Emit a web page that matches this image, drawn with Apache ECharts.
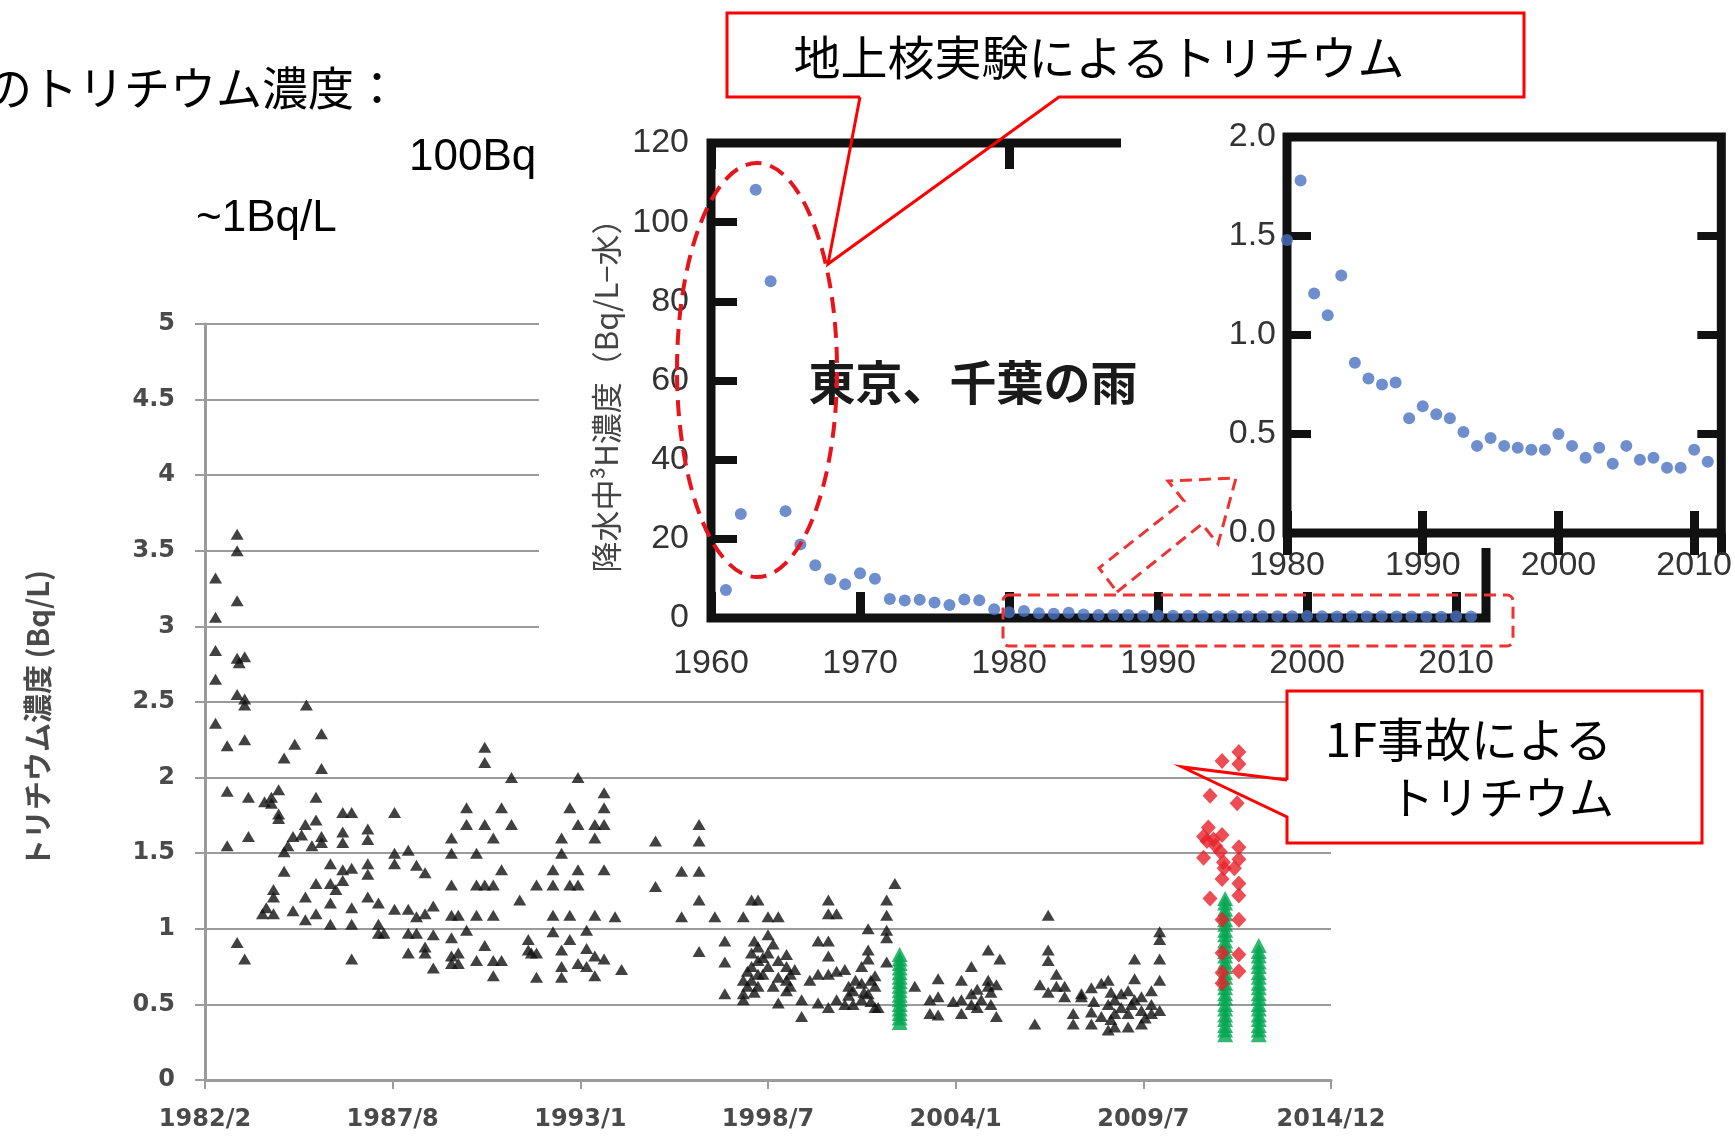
<!DOCTYPE html>
<html><head><meta charset="utf-8">
<script src="https://cdn.jsdelivr.net/npm/echarts@6/dist/echarts.min.js"></script>
<style>html,body{margin:0;padding:0;background:#fff}#c{width:1735px;height:1136px}</style>
</head><body><div id="c"></div>
<script>
// ---------- main chart (Bq/L) ----------
const mainTickLabels = ['1982/2','1987/8','1993/1','1998/7','2004/1','2009/7','2014/12'];
const mainStart = 1982 + 1/12;   // 1982/2
const mainEnd = 2014 + 11/12;    // 2014/12
const mainYTicks = [0,0.5,1,1.5,2,2.5,3,3.5,4,4.5,5];

const blackPts = [
[1982.39,3.32],[1982.39,3.06],[1982.39,2.84],[1982.39,2.65],[1982.39,2.36],
[1982.73,2.21],[1982.73,1.91],[1982.73,1.55],
[1983.02,3.61],[1983.02,3.50],[1983.02,3.17],[1983.02,2.79],[1983.08,2.76],[1983.02,2.55],[1983.02,0.91],
[1983.24,2.80],[1983.24,2.52],[1983.24,2.48],[1983.24,2.25],[1983.24,0.80],
[1983.35,1.87],[1983.35,1.61],
[1983.76,1.10],[1983.82,1.84],[1983.87,1.14],
[1984.02,1.87],[1984.02,1.83],[1984.08,1.26],[1984.08,1.21],[1984.08,1.10],
[1984.23,1.92],[1984.23,1.76],[1984.23,1.73],
[1984.39,2.13],[1984.39,1.51],[1984.39,1.38],[1984.50,1.55],
[1984.65,1.61],[1984.65,1.12],[1984.70,2.22],[1984.90,1.62],
[1985.01,1.69],[1985.01,1.21],[1985.01,1.06],[1985.04,2.48],[1985.20,1.55],
[1985.32,1.87],[1985.32,1.72],[1985.32,1.30],[1985.32,1.10],
[1985.48,2.29],[1985.48,2.06],[1985.48,1.61],[1985.48,1.57],
[1985.74,1.43],[1985.74,1.30],[1985.74,1.17],[1985.74,1.03],[1985.90,1.26],
[1986.10,1.77],[1986.10,1.64],[1986.10,1.57],[1986.10,1.39],[1986.10,1.32],
[1986.36,1.77],[1986.36,1.40],[1986.36,1.14],[1986.36,1.03],[1986.36,0.80],
[1986.83,1.66],[1986.83,1.59],[1986.83,1.43],[1986.83,1.36],[1986.83,1.21],
[1987.14,1.17],[1987.14,1.03],[1987.14,0.97],[1987.30,0.97],
[1987.61,1.77],[1987.61,1.50],[1987.61,1.43],[1987.61,1.13],
[1988.01,1.52],[1988.01,1.13],[1988.01,0.97],[1988.01,0.84],
[1988.25,1.42],[1988.25,1.08],[1988.25,0.97],
[1988.50,1.37],[1988.50,1.10],[1988.50,0.88],[1988.50,0.84],
[1988.74,1.15],[1988.74,0.96],[1988.74,0.74],
[1989.27,1.60],[1989.27,1.50],[1989.27,1.29],[1989.27,1.09],[1989.27,0.94],[1989.27,0.82],[1989.27,0.77],
[1989.47,1.09],[1989.47,0.84],[1989.47,0.77],
[1989.71,1.80],[1989.71,1.69],[1989.71,0.99],
[1990.00,1.50],[1990.00,1.29],[1990.00,1.09],[1990.00,0.79],
[1990.24,2.20],[1990.24,2.10],[1990.24,1.69],[1990.24,1.29],[1990.24,0.89],
[1990.49,1.60],[1990.49,1.29],[1990.49,1.09],[1990.49,0.79],[1990.49,0.69],
[1990.73,1.80],[1990.73,1.39],[1990.73,0.79],
[1991.02,2.00],[1991.02,1.69],[1991.26,1.19],
[1991.51,0.93],[1991.51,0.86],[1991.60,0.84],
[1991.75,1.29],[1991.75,0.84],[1991.75,0.68],
[1992.23,1.39],[1992.23,1.29],[1992.23,1.09],[1992.23,0.98],
[1992.48,1.60],[1992.48,1.50],[1992.48,0.86],[1992.48,0.75],[1992.48,0.68],
[1992.72,1.80],[1992.72,1.29],[1992.72,1.09],[1992.72,0.93],
[1992.96,2.00],[1992.96,1.69],[1992.96,1.39],[1992.96,1.29],[1992.96,0.77],
[1993.21,0.99],[1993.21,0.87],[1993.21,0.75],
[1993.45,1.69],[1993.45,1.60],[1993.45,1.09],[1993.45,0.82],[1993.45,0.69],
[1993.72,1.90],[1993.72,1.80],[1993.72,1.69],[1993.72,1.39],[1993.72,0.80],
[1994.04,1.08],[1994.23,0.73],
[1995.22,1.58],[1995.22,1.28],
[1995.98,1.38],[1995.98,1.08],
[1996.49,1.69],[1996.49,1.58],[1996.49,1.38],[1996.49,1.19],[1996.49,0.85],
[1996.95,1.08],
[1997.24,0.92],[1997.24,0.78],[1997.24,0.57],
[1997.78,1.08],[1997.78,0.66],[1997.78,0.57],[1997.78,0.53],[1997.90,0.62],[1997.90,0.72],
[1998.02,1.19],[1998.02,0.84],[1998.02,0.75],[1998.02,0.66],[1998.10,0.58],[1998.10,0.92],
[1998.21,1.19],[1998.21,0.88],[1998.21,0.79],[1998.21,0.70],[1998.21,0.62],[1998.35,0.70],[1998.35,0.81],
[1998.50,1.08],[1998.50,0.96],[1998.50,0.84],[1998.50,0.75],[1998.65,0.62],[1998.65,0.90],
[1998.80,1.08],[1998.80,0.79],[1998.80,0.68],[1998.80,0.51],
[1999.04,0.83],[1999.04,0.75],[1999.04,0.66],[1999.04,0.59],[1999.15,0.70],[1999.15,0.62],
[1999.28,0.73],[1999.48,0.53],[1999.48,0.42],[1999.72,0.66],
[1999.96,0.92],[1999.96,0.70],[1999.96,0.51],
[2000.26,1.19],[2000.26,1.10],[2000.26,0.92],[2000.26,0.82],[2000.26,0.70],[2000.26,0.48],
[2000.50,1.10],[2000.50,0.72],[2000.50,0.53],
[2000.74,0.73],[2000.74,0.50],[2000.85,0.62],[2000.85,0.56],
[2000.98,0.59],[2000.98,0.50],[2001.05,0.66],
[2001.23,0.75],[2001.23,0.64],[2001.23,0.53],[2001.30,0.58],
[2001.42,1.00],[2001.42,0.86],[2001.42,0.80],[2001.42,0.57],[2001.50,0.52],[2001.50,0.66],
[2001.62,0.69],[2001.62,0.62],[2001.62,0.48],[2001.71,0.48],
[2001.96,1.19],[2001.96,1.09],[2001.96,0.99],[2001.96,0.94],[2001.96,0.78],
[2002.20,1.30],
[2002.78,0.62],
[2003.22,0.53],[2003.22,0.44],
[2003.46,0.67],[2003.46,0.55],[2003.46,0.43],
[2003.90,0.52],
[2004.14,0.66],[2004.14,0.53],[2004.14,0.44],
[2004.43,0.75],[2004.43,0.57],[2004.43,0.50],[2004.60,0.48],[2004.60,0.60],
[2004.72,0.53],
[2004.92,0.86],[2004.92,0.66],[2004.92,0.62],[2005.00,0.58],[2005.00,0.50],
[2005.16,0.63],[2005.16,0.42],[2005.26,0.80],
[2006.28,0.37],[2006.43,0.63],
[2006.67,1.09],[2006.67,0.86],[2006.67,0.79],[2006.67,0.58],
[2006.91,0.70],[2006.91,0.62],
[2007.15,0.62],[2007.15,0.55],
[2007.40,0.44],[2007.40,0.37],
[2007.64,0.55],[2007.64,0.57],
[2007.93,0.61],[2007.93,0.45],[2007.93,0.37],[2008.00,0.52],
[2008.22,0.64],[2008.22,0.42],
[2008.42,0.66],[2008.42,0.50],[2008.42,0.33],[2008.50,0.40],[2008.50,0.58],
[2008.61,0.53],[2008.61,0.44],[2008.61,0.35],
[2008.80,0.57],[2008.80,0.48],
[2009.00,0.59],[2009.00,0.44],[2009.00,0.35],[2009.10,0.50],
[2009.19,0.80],[2009.19,0.67],[2009.19,0.53],
[2009.39,0.55],[2009.39,0.46],[2009.39,0.37],[2009.50,0.41],
[2009.68,0.59],[2009.68,0.50],[2009.68,0.44],
[2009.92,0.98],[2009.92,0.93],[2009.92,0.80],[2009.92,0.66],[2009.92,0.46]
];

const redPts = [
[2011.74,2.11],[2012.23,2.17],[2012.23,2.09],[2011.39,1.88],[2012.18,1.83],
[2011.34,1.67],[2011.20,1.61],[2011.49,1.59],[2011.74,1.62],[2012.23,1.54],
[2011.30,1.58],[2011.55,1.55],
[2011.20,1.47],[2011.69,1.51],[2011.78,1.44],[2012.23,1.46],[2011.80,1.40],[2012.10,1.40],
[2011.74,1.33],[2012.23,1.30],[2011.39,1.20],[2012.23,1.22],
[2011.74,1.06],[2012.23,1.06],[2011.74,0.84],[2012.23,0.83],
[2011.74,0.71],[2012.23,0.72],[2011.74,0.64]
];

const greenPts = [
[2002.34,0.83],[2002.34,0.80],[2002.34,0.77],[2002.34,0.74],[2002.34,0.71],[2002.34,0.68],[2002.34,0.65],[2002.34,0.62],
[2002.34,0.59],[2002.34,0.56],[2002.34,0.53],[2002.34,0.50],[2002.34,0.47],[2002.34,0.44],[2002.34,0.41],[2002.34,0.38],
[2011.83,1.20],[2011.83,1.17],[2011.83,1.13],[2011.83,1.10],[2011.83,1.06],[2011.83,1.03],[2011.83,0.99],[2011.83,0.96],
[2011.83,0.92],[2011.83,0.89],[2011.83,0.85],[2011.83,0.82],[2011.83,0.78],[2011.83,0.75],[2011.83,0.71],[2011.83,0.68],
[2011.83,0.64],[2011.83,0.61],[2011.83,0.57],[2011.83,0.54],[2011.83,0.50],[2011.83,0.47],[2011.83,0.43],[2011.83,0.40],
[2011.83,0.36],[2011.83,0.33],[2011.83,0.30],
[2012.81,0.89],[2012.81,0.85],[2012.81,0.82],[2012.81,0.78],[2012.81,0.75],[2012.81,0.71],[2012.81,0.68],[2012.81,0.64],
[2012.81,0.61],[2012.81,0.57],[2012.81,0.54],[2012.81,0.50],[2012.81,0.47],[2012.81,0.43],[2012.81,0.40],[2012.81,0.36],
[2012.81,0.33],[2012.81,0.30]
];

// ---------- inset: rain in Tokyo / Chiba (Bq/L) ----------
const rainYears = [1961,1962,1963,1964,1965,1966,1967,1968,1969,1970,1971,1972,1973,1974,1975,1976,1977,1978,1979,
  1980,1981,1982,1983,1984,1985,1986,1987,1988,1989,1990,1991,1992,1993,1994,1995,1996,1997,1998,1999,
  2000,2001,2002,2003,2004,2005,2006,2007,2008,2009,2010,2011];
const rainValues = [7.1,26.3,108.2,85.1,27.0,18.6,13.3,9.8,8.5,11.3,9.9,4.8,4.4,4.6,3.9,3.3,4.7,4.5,2.2,
  1.48,1.78,1.21,1.10,1.30,0.86,0.78,0.75,0.76,0.58,0.64,0.60,0.58,0.51,0.44,0.48,0.44,0.43,0.42,0.42,
  0.50,0.44,0.38,0.43,0.35,0.44,0.37,0.38,0.33,0.33,0.42,0.36];
const inset1YTicks = [0,20,40,60,80,100,120];
const inset1XTicks = [1960,1970,1980,1990,2000,2010];
const inset2YTicks = ['0.0','0.5','1.0','1.5','2.0'];
const inset2XTicks = [1980,1990,2000,2010];

// ---------- build ----------
const span = (mainEnd - mainStart) / 6;
const toMainX = y => (y - mainStart) / span;
const conv = arr => arr.map(p => [toMainX(p[0]), p[1]]);
const rainAll = rainYears.map((y,i) => [y, rainValues[i]]);
const rainLate = rainAll.filter(p => p[0] >= 1980);

const BLK = '#111';
const GR = '#9b9b9b';
const narrow = "'Liberation Sans Narrow','Liberation Sans',sans-serif";
const jp = "'Noto Sans CJK JP',sans-serif";
const RED = '#ff0000';
const BLUE = '#4a72c2';

const chart = echarts.init(document.getElementById('c'), null, {renderer:'canvas'});

const insetLabel = {fontFamily: narrow, fontSize: 34, color: '#333'};

const option = {
  animation: false,
  backgroundColor: '#fff',
  grid: [
    {left: 205, top: 324, width: 1126, height: 756, z: 0},
    {left: 711, top: 143, width: 775, height: 475, show: true, borderColor: BLK, borderWidth: 9, backgroundColor: 'transparent', z: 6},
    {left: 1287, top: 137, width: 436, height: 396, show: true, borderColor: BLK, borderWidth: 9, backgroundColor: 'transparent', z: 11}
  ],
  xAxis: [
    {type:'value', gridIndex:0, min:0, max:6, interval:1, z:1,
     axisLine:{show:true, lineStyle:{color:GR, width:3}},
     axisTick:{show:true, length:9, lineStyle:{color:GR, width:2}},
     splitLine:{show:false},
     axisLabel:{margin:28, fontFamily:"'DejaVu Sans',sans-serif", fontWeight:'bold', fontSize:24, color:'#4a4a4a',
       formatter: v => mainTickLabels[Math.round(v)] || ''}},
    {type:'value', gridIndex:1, min:1960, max:2012, interval:10, z:7,
     axisLine:{show:false}, splitLine:{show:false},
     axisTick:{show:true, inside:true, length:26, lineStyle:{color:BLK, width:9}},
     axisLabel:Object.assign({margin:29, showMaxLabel:false,
       formatter: v => inset1XTicks.includes(v) ? String(v) : ''}, insetLabel)},
    {type:'value', gridIndex:1, position:'top', min:1960, max:2012, interval:20, z:7,
     axisLine:{show:false}, splitLine:{show:false}, axisLabel:{show:false},
     axisTick:{show:true, inside:true, length:26, lineStyle:{color:BLK, width:9}}},
    {type:'value', gridIndex:2, min:1980, max:2012, interval:10, z:12,
     axisLine:{show:false}, splitLine:{show:false},
     axisTick:{show:true, inside:true, length:22, lineStyle:{color:BLK, width:9}},
     axisLabel:Object.assign({margin:16, showMaxLabel:false,
       formatter: v => inset2XTicks.includes(v) ? String(v) : ''}, insetLabel)},
    {type:'value', gridIndex:2, position:'top', min:1980, max:2012, interval:10, z:12,
     axisLine:{show:false}, splitLine:{show:false}, axisLabel:{show:false},
     axisTick:{show:true, inside:true, length:22, lineStyle:{color:BLK, width:9}}}
  ],
  yAxis: [
    {type:'value', gridIndex:0, min:0, max:5, interval:0.5, z:1,
     axisLine:{show:true, lineStyle:{color:GR, width:3}},
     axisTick:{show:true, length:10, lineStyle:{color:GR, width:2}},
     splitLine:{show:true, lineStyle:{color:GR, width:2}},
     axisLabel:{margin:30, fontFamily:"'DejaVu Sans',sans-serif", fontWeight:'bold', fontSize:24, color:'#4a4a4a',
       formatter: v => { const t = mainYTicks.find(k => Math.abs(k - v) < 1e-6); return t === undefined ? '' : String(t); }}},
    {type:'value', gridIndex:1, min:0, max:120, interval:20, z:7,
     axisLine:{show:false}, splitLine:{show:false},
     axisTick:{show:true, inside:true, length:26, lineStyle:{color:BLK, width:8}},
     axisLabel:Object.assign({margin:22,
       formatter: v => inset1YTicks.includes(v) ? String(v) : ''}, insetLabel)},
    {type:'value', gridIndex:2, min:0, max:2, interval:0.5, z:12,
     axisLine:{show:false}, splitLine:{show:false},
     axisTick:{show:true, inside:true, length:24, lineStyle:{color:BLK, width:8}},
     axisLabel:Object.assign({margin:11,
       formatter: v => inset2YTicks[Math.round(v * 2)] || ''}, insetLabel)},
    {type:'value', gridIndex:2, position:'right', min:0, max:2, interval:0.5, z:12,
     axisLine:{show:false}, splitLine:{show:false}, axisLabel:{show:false},
     axisTick:{show:true, inside:true, length:24, lineStyle:{color:BLK, width:8}}}
  ],
  series: [
    {type:'scatter', xAxisIndex:0, yAxisIndex:0, z:2, clip:false, data: conv(blackPts),
     symbol:'triangle', symbolSize:[13,11], itemStyle:{color:BLK}},
    {type:'scatter', xAxisIndex:0, yAxisIndex:0, z:2, clip:false, data: conv(greenPts),
     symbol:'triangle', symbolSize:[16,15], itemStyle:{color:'#00a650'}},
    {type:'scatter', xAxisIndex:0, yAxisIndex:0, z:3, clip:false, data: conv(redPts),
     symbol:'diamond', symbolSize:[15,16], itemStyle:{color:'#e8202a'}},
    {type:'scatter', xAxisIndex:1, yAxisIndex:1, z:8, clip:false, data: rainAll,
     symbol:'circle', symbolSize:12, itemStyle:{color:BLUE}},
    {type:'scatter', xAxisIndex:3, yAxisIndex:2, z:13, clip:false, data: rainLate,
     symbol:'circle', symbolSize:12, itemStyle:{color:BLUE}}
  ],
  graphic: [
    // background texts (partly hidden by the inset picture)
    {type:'text', x:-14, y:88, z:3, style:{text:'のトリチウム濃度：', fontFamily:jp, fontSize:46, fill:'#000', align:'left', verticalAlign:'middle', textAlign:'left', textVerticalAlign:'middle'}},
    {type:'text', x:409, y:158, z:3, style:{text:'100Bq', fontFamily:"'Liberation Sans',sans-serif", fontSize:44, fill:'#000', align:'left', verticalAlign:'middle', textAlign:'left', textVerticalAlign:'middle'}},
    {type:'text', x:196, y:219, z:3, style:{text:'~1Bq/L', fontFamily:"'Liberation Sans',sans-serif", fontSize:44, fill:'#000', align:'left', verticalAlign:'middle', textAlign:'left', textVerticalAlign:'middle'}},
    {type:'text', x:38, y:719, rotation:Math.PI/2, z:3, style:{text:'トリチウム濃度 (Bq/L)', fontFamily:jp, fontWeight:'bold', fontSize:29, fill:'#4a4a4a', align:'center', verticalAlign:'middle', textAlign:'center', textVerticalAlign:'middle'}},
    // inset picture backgrounds
    {type:'rect', z:5, shape:{x:539, y:0, width:1196, height:697}, style:{fill:'#fff'}},
    {type:'rect', z:10, shape:{x:1121, y:105, width:614, height:443}, style:{fill:'#fff'}},
    // inset texts
    {type:'text', x:606, y:388, rotation:Math.PI/2, z:9, style:{text:'降水中³H濃度（Bq/L−水）', fontFamily:jp, fontSize:31, fill:'#444', align:'center', verticalAlign:'middle', textAlign:'center', textVerticalAlign:'middle'}},
    {type:'text', x:973, y:382, z:15, style:{text:'東京、千葉の雨', fontFamily:jp, fontWeight:'bold', fontSize:47, fill:'#1a1a1a', align:'center', verticalAlign:'middle', textAlign:'center', textVerticalAlign:'middle'}},
    // dashed annotations
    {type:'ellipse', z:20, shape:{cx:757, cy:370, rx:80, ry:207}, style:{fill:null, stroke:'#e8141c', lineWidth:4, lineDash:[16,9]}},
    {type:'rect', z:20, shape:{x:1003, y:595, width:510, height:51, r:6}, style:{fill:null, stroke:'#ee3333', lineWidth:3, lineDash:[12,7]}},
    {type:'polygon', z:20, shape:{points:[[1117,592],[1202,524],[1218,544],[1236,478],[1168,481],[1184,501],[1099,568]]}, style:{fill:null, stroke:'#ee3333', lineWidth:3, lineDash:[12,7]}},
    // callout 1
    {type:'rect', z:20, shape:{x:727, y:13, width:797, height:84}, style:{fill:'#fff'}},
    {type:'polyline', z:21, shape:{points:[[860,97],[727,97],[727,13],[1524,13],[1524,97],[1059,97],[828,264],[860,97]]}, style:{fill:null, stroke:RED, lineWidth:3}},
    {type:'text', x:1099, y:57, z:22, style:{text:'地上核実験によるトリチウム', fontFamily:jp, fontSize:47, fill:'#000', align:'center', verticalAlign:'middle', textAlign:'center', textVerticalAlign:'middle'}},
    // callout 2
    {type:'rect', z:20, shape:{x:1287, y:691, width:415, height:152}, style:{fill:'#fff'}},
    {type:'polyline', z:21, shape:{points:[[1287,780],[1287,691],[1702,691],[1702,843],[1287,843],[1287,817],[1182,767],[1287,780]]}, style:{fill:null, stroke:RED, lineWidth:3}},
    {type:'text', x:1325, y:739, z:22, style:{text:'1F事故による', fontFamily:jp, fontSize:47, fill:'#000', align:'left', verticalAlign:'middle', textAlign:'left', textVerticalAlign:'middle'}},
    {type:'text', x:1389, y:798, z:22, style:{text:'トリチウム', fontFamily:jp, fontSize:45, fill:'#000', align:'left', verticalAlign:'middle', textAlign:'left', textVerticalAlign:'middle'}}
  ]
};
chart.setOption(option);
</script>
</body></html>
